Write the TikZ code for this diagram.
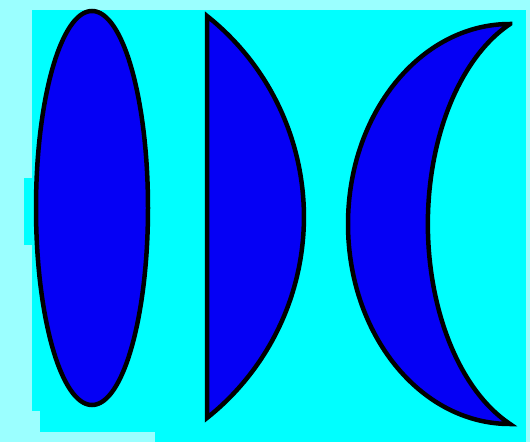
\documentclass[tikz,border=0pt]{standalone}
\usepackage{xcolor}
\definecolor{paleCyan}{RGB}{155,255,255}
\definecolor{brightCyan}{RGB}{0,255,255}
\definecolor{lensBlue}{RGB}{5,0,245}
\tikzset{lens/.style={draw=black,fill=lensBlue,line width=0.09cm,line join=miter,miter limit=25}}
\begin{document}
\begin{tikzpicture}[x=0.02cm,y=-0.02cm]

% --- Background ---
\fill[paleCyan] (0,0) rectangle (530,442);
\fill[brightCyan] (32,10) rectangle (526,442);
\fill[brightCyan] (24,178) rectangle (32,245);
\fill[paleCyan] (32,411) rectangle (40,442);
\fill[paleCyan] (32,432) rectangle (155,442);
\useasboundingbox (0,0) rectangle (530,442);

% --- Biconvex lens ---
\draw[lens] (92,208) ellipse[x radius=56, y radius=197];

% --- Plano-convex lens ---
\draw[lens] (207,16) arc[start angle=-51.5, end angle=51.5, radius=256.8] -- cycle;

% --- Meniscus lens ---
\draw[lens] (510,24) arc[start angle=270, end angle=90, x radius=162, y radius=200]
  arc[start angle=112.2, end angle=247.8, x radius=132, y radius=216] -- cycle;

\end{tikzpicture}
\end{document}
